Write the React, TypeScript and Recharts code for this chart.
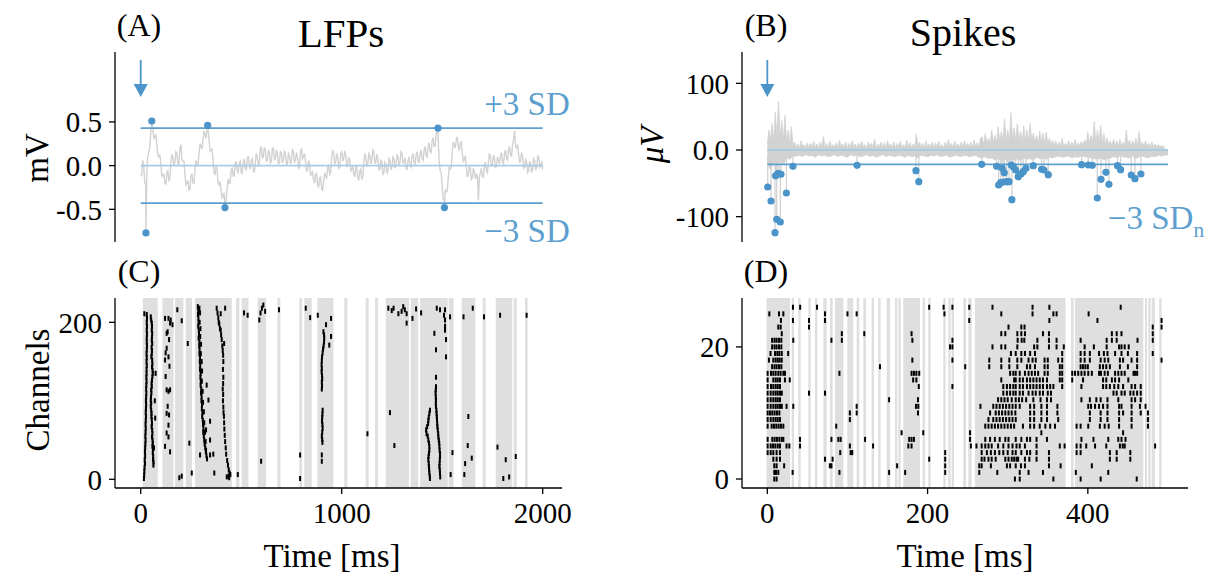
import React from 'react';
import {
  ComposedChart,
  Line,
  Area,
  Scatter,
  XAxis,
  YAxis,
  ReferenceLine,
  ReferenceArea,
  ReferenceDot,
} from 'recharts';

// ---- panel A: LFP trace, samples at 0,10,20... ms and the in-between samples at 5,15,25... ms ----
const lfpStep = 10;
const lfpTrace = [
  -0.12, 0.06, -0.2, -0.1, 0.15, 0.38, 0.44, 0.32, 0.25, 0.1,
  0.02, -0.12, -0.2, -0.08, -0.18, 0.02, 0.1, 0.04, 0.14, 0.02,
  0.24, 0.05, -0.1, -0.2, -0.28, -0.12, -0.2, -0.05, 0.02, 0.14,
  0.22, 0.3, 0.36, 0.4, 0.3, 0.18, 0.06, -0.1, -0.05, -0.22,
  -0.28, -0.34, -0.42, -0.25, -0.2, -0.06, -0.12, 0.02, -0.06, 0.03,
  -0.08, 0.04, -0.03, 0.08, 0.0, 0.06, -0.05, 0.03, 0.1, 0.02,
  0.22, 0.1, 0.18, 0.06, 0.15, 0.05, 0.2, 0.08, 0.14, 0.03,
  0.15, 0.06, 0.14, 0.02, 0.12, 0.05, 0.16, 0.06, 0.1, -0.02,
  0.2, 0.1, 0.04, -0.04, 0.02, -0.1, -0.16, -0.1, -0.22, -0.14,
  -0.26, -0.18, -0.12, -0.02, -0.1, 0.08, 0.14, 0.04, 0.1, -0.02,
  0.16, 0.08, 0.12, 0.0, 0.06, -0.04, -0.1, -0.02, -0.14, -0.06,
  -0.16, 0.04, 0.1, 0.02, 0.12, 0.06, 0.16, 0.04, 0.08, -0.04,
  0.03, -0.08, 0.02, -0.05, 0.06, -0.02, 0.08, 0.0, 0.1, 0.04,
  0.14, 0.05, -0.02, 0.06, 0.0, 0.1, 0.04, 0.12, 0.06, 0.14,
  0.08, 0.18, 0.12, 0.22, 0.16, 0.28, 0.22, 0.36, 0.3, -0.06,
  -0.24, -0.4, -0.3, -0.14, -0.04, 0.15, 0.24, 0.3, 0.22, 0.26,
  0.14, 0.08, -0.02, -0.1, -0.04, -0.14, -0.06, -0.1, -0.4, -0.08,
  -0.12, 0.0, -0.06, 0.04, 0.1, 0.02, 0.08, 0.0, 0.06, 0.12,
  0.04, 0.14, 0.08, 0.18, 0.12, 0.24, 0.4, 0.2, 0.14, 0.06,
  0.1, -0.02, 0.04, -0.06, 0.02, -0.04, 0.06, -0.02, 0.1, 0.0,
  -0.04,
];
const lfpTraceMid = [
  -0.1, 0.0, -0.22, 0.1, 0.2, 0.48, 0.31, 0.36, 0.11, 0.13,
  -0.12, -0.09, -0.21, -0.06, -0.15, 0.13, 0.0, 0.16, 0.01, 0.2,
  0.07, 0.05, -0.22, -0.17, -0.27, -0.09, -0.2, 0.06, 0.01, 0.25,
  0.19, 0.4, 0.31, 0.42, 0.17, 0.19, -0.09, 0.0, -0.2, -0.18,
  -0.38, -0.31, -0.4, -0.15, -0.2, -0.02, -0.12, 0.05, -0.08, 0.05,
  -0.09, 0.08, -0.05, 0.11, -0.04, 0.08, -0.08, 0.14, -0.01, 0.19,
  0.09, 0.21, 0.05, 0.18, 0.03, 0.2, 0.07, 0.18, 0.02, 0.16,
  0.03, 0.17, 0.01, 0.14, 0.02, 0.18, 0.04, 0.15, -0.03, 0.16,
  0.08, 0.14, -0.07, 0.06, -0.11, -0.06, -0.2, -0.09, -0.25, -0.13,
  -0.29, -0.08, -0.14, 0.01, -0.08, 0.18, 0.02, 0.14, -0.03, 0.14,
  0.05, 0.17, -0.01, 0.1, -0.06, 0.0, -0.13, -0.01, -0.17, -0.04,
  -0.13, 0.14, -0.01, 0.14, 0.02, 0.18, 0.03, 0.13, -0.05, 0.07,
  -0.1, 0.04, -0.09, 0.08, -0.05, 0.1, -0.03, 0.12, 0.0, 0.16,
  0.02, 0.09, -0.05, 0.1, -0.02, 0.14, 0.01, 0.16, 0.03, 0.18,
  0.06, 0.22, 0.1, 0.26, 0.15, 0.32, 0.22, 0.4, 0.05, -0.08,
  -0.39, -0.28, -0.29, -0.02, -0.02, 0.27, 0.2, 0.33, 0.17, 0.27,
  0.04, 0.1, -0.13, 0.0, -0.16, -0.03, -0.15, -0.12, -0.14, -0.03,
  -0.13, 0.04, -0.08, 0.14, -0.01, 0.12, -0.03, 0.1, 0.02, 0.15,
  0.02, 0.18, 0.06, 0.22, 0.11, 0.3, 0.22, 0.24, 0.03, 0.15,
  -0.03, 0.08, -0.08, 0.05, -0.08, 0.08, -0.05, 0.11, -0.02, 0.05,
];
// threshold crossings [ms, mV]
const lfpPeaks = [
  [26, -0.77], [55, 0.51], [333, 0.46], [419, -0.48], [1479, 0.43], [1511, -0.48],
];
const lfpThreshold = 0.43;

// ---- panel B: spike band; upper edge every 2 ms, lower edge every 4 ms [µV] ----
const spikeUpperStep = 2;
const spikeUpper = [
  10, 30, 15, 40, 12, 57, 20, 73, 18, 45, 15, 52, 12, 30, 10, 35, 8,
  12, 4, 9, 3, 14, 5, 8, 4, 11, 3, 10, 5, 13, 4, 9, 3, 12, 5, 20, 4,
  10, 3, 13, 5, 8, 4, 11, 3, 15, 5, 9, 4, 12, 3, 10, 5, 14, 4, 9, 3,
  11, 5, 13, 4, 8, 3, 12, 5, 10, 4, 16, 3, 9, 5, 12, 4, 11, 3, 14, 5,
  9, 4, 12, 3, 10, 5, 13, 4, 8, 3, 15, 5, 11, 4, 9, 3, 24, 5, 12, 4,
  10, 3, 14, 5, 9, 4, 12, 3, 11, 5, 13, 4, 8, 3, 12, 5, 16, 4, 10, 3,
  13, 5, 9, 4, 12, 3, 14, 5, 10, 4, 12, 3, 15, 5, 11, 4, 18,
  20, 8, 25, 10, 18, 9, 30, 12, 22, 10, 35, 14, 28, 12, 47, 15, 30, 12, 56, 16,
  33, 14, 40, 15, 28, 12, 36, 14, 30, 12, 40, 13, 25, 11, 22, 10, 28, 12, 25, 10,
  27, 9, 18, 8, 15,
  6, 14, 5, 12, 6, 18, 5, 10, 6, 14, 5, 12, 6, 16, 5, 11, 6, 13, 7,
  15, 8, 27, 10, 22, 12, 43, 10, 30, 12, 37, 10, 25, 8, 18, 7, 14, 6, 16,
  6, 14, 5, 16, 6, 12, 5, 30, 7, 15, 5, 14, 6, 18, 5, 28, 6, 12, 5, 14, 6, 10,
  5, 12, 4, 9, 5, 8, 4, 7, 4, 6,
];
const spikeLowerStep = 4;
const spikeLower = [
  -20, -30, -18, -25, -15, -22, -12, -14, -10, -9,
  -8, -10, -7, -9, -8, -11, -7, -9, -8, -10,
  -9, -7, -10, -8, -9, -11, -7, -9, -8, -10,
  -9, -7, -10, -8, -11, -9, -7, -10, -8, -9,
  -10, -8, -9, -11, -8, -10, -9, -12, -8, -9,
  -10, -8, -9, -7, -10, -9, -8, -11, -9, -8,
  -10, -9, -8, -10, -9, -8, -11, -12, -10, -13,
  -12, -15, -13, -16, -12, -18, -14, -15, -13, -16,
  -12, -14, -13, -15, -11, -13, -12, -14, -11, -12,
  -10, -9, -11, -10, -9, -12, -10, -11, -9, -10,
  -11, -12, -13, -14, -12, -15, -13, -12, -10, -11,
  -9, -10, -11, -12, -9, -13, -10, -9, -11, -12,
  -9, -10, -8, -9, -8, -7,
];
// detected spikes [ms, µV]
const spikeDots = [
  [0.5, -55.5], [4.6, -76.5], [9.6, -124], [10.4, -38.5], [11.7, -104], [13.7, -35],
  [16.2, -108], [17, -36.5], [23.8, -64.5], [32, -24.5], [112, -23], [185.5, -31],
  [189, -47.5], [267.5, -21.5], [286.2, -24.5], [288.7, -52.5], [291.2, -49],
  [293.2, -27.5], [294.5, -48], [295.7, -34], [298.7, -47.5], [301.6, -47.5],
  [304.4, -22.5], [305.2, -74.5], [306.9, -25], [309.9, -30], [313.2, -40],
  [316.5, -36], [319.4, -32.5], [322.8, -27.5], [331.9, -23.5], [342.3, -29],
  [345.2, -30], [350.6, -37], [392.2, -22], [400.5, -22.5], [405.5, -23],
  [411.8, -72], [416.4, -44], [422.6, -33.5], [426.3, -51.5], [437.1, -23.5],
  [440.9, -29.5], [454.2, -37.5], [458.8, -43], [466.2, -36],
];
const spikeThreshold = -21.5;

// ---- panel C: LFP event raster [ms, channel] ----
const cBands = [
  [10, 85], [108, 163], [171, 212], [224, 255], [270, 453], [474, 491], [502, 536],
  [582, 624], [680, 695], [789, 803], [814, 851], [879, 959], [1013, 1028],
  [1119, 1134], [1166, 1181], [1219, 1335], [1343, 1381], [1390, 1527], [1532, 1557],
  [1597, 1665], [1701, 1716], [1766, 1849], [1856, 1871], [1912, 1925],
];
const cWaveEarlyA = [
  [30, 210], [31, 205], [30, 200], [31, 195], [30, 190], [31, 185], [30, 180], [30, 175],
  [31, 170], [30, 165], [29, 160], [30, 155], [29, 150], [30, 145], [29, 140], [29, 135],
  [28, 130], [29, 125], [28, 120], [27, 115], [28, 110], [27, 105], [26, 100], [27, 95],
  [26, 90], [25, 85], [26, 80], [25, 75], [24, 70], [25, 65], [24, 60], [23, 55], [24, 50],
  [23, 45], [22, 40], [21, 35], [22, 30], [20, 25], [21, 20], [19, 15], [18, 10], [17, 5],
  [16, 1],
];
const cWaveEarlyB = [
  [50, 207], [52, 203], [55, 199], [56, 195], [55, 190], [57, 186], [56, 181], [55, 177],
  [57, 173], [54, 168], [56, 164], [55, 160], [53, 156], [57, 152], [58, 147], [56, 143],
  [59, 139], [60, 135], [58, 131], [56, 126], [54, 122], [55, 118], [52, 114], [53, 110],
  [51, 105], [50, 101], [52, 97], [50, 93], [52, 88], [54, 84], [53, 80], [55, 76], [56, 71],
  [54, 67], [57, 63], [58, 58], [56, 54], [59, 50], [60, 46], [58, 42], [61, 38], [60, 34],
  [62, 29], [61, 25], [64, 22], [63, 18], [74, 135], [70, 100], [72, 78], [66, 40], [18, 211],
];
const cWaveSecond = [
  [121, 205], [138, 205], [149, 203], [146, 199], [158, 197], [134, 188], [129, 186],
  [141, 178], [129, 167], [124, 161], [121, 152], [138, 156], [143, 144], [124, 131],
  [129, 114], [138, 112], [146, 114], [134, 93], [129, 84], [141, 82], [138, 69],
  [129, 59], [138, 54], [121, 42], [146, 35], [182, 216], [204, 202], [192, 2], [204, 4],
  [234, 173], [242, 46], [254, 8],
];
const cWaveThirdA = [
  [284, 220], [286, 215], [285, 210], [287, 205], [288, 200], [286, 195], [289, 190],
  [290, 185], [288, 180], [292, 175], [291, 170], [293, 165], [292, 160], [295, 155],
  [294, 150], [296, 145], [295, 140], [298, 135], [297, 130], [299, 125], [298, 120],
  [301, 115], [300, 110], [303, 105], [302, 100], [305, 95], [304, 90], [307, 85],
  [306, 80], [309, 75], [310, 70], [312, 65], [311, 60], [314, 55], [316, 50], [318, 45],
  [321, 40], [324, 35], [327, 30], [330, 26],
];
const cWaveThirdB = [
  [292, 218], [295, 212], [293, 200], [297, 192], [296, 182], [300, 172], [299, 160],
  [303, 150], [305, 138], [304, 125], [308, 112], [310, 98], [314, 86], [316, 72],
  [320, 60], [323, 48], [328, 120], [337, 101], [345, 74], [325, 63], [345, 50],
  [295, 31], [325, 37], [345, 31], [361, 32], [366, 8],
];
const cWaveFourth = [
  [378, 218], [382, 212], [386, 206], [388, 200], [391, 198], [394, 192], [398, 190],
  [400, 184], [403, 178], [406, 170], [408, 164], [410, 158], [411, 150], [409, 140],
  [411, 130], [410, 122], [408, 115], [410, 108], [409, 100], [411, 92], [412, 85],
  [414, 80], [415, 72], [416, 64], [418, 56], [420, 48], [423, 40], [425, 32], [430, 24],
  [434, 18], [438, 12], [442, 8], [436, 4], [428, 3], [446, 6], [398, 211], [420, 218],
  [415, 173], [440, 2], [483, 6],
];
const cWaveFifth = [
  [909, 188], [912, 184], [913, 180], [912, 175], [910, 170], [907, 166], [905, 161],
  [902, 156], [901, 151], [900, 146], [901, 141], [900, 137], [902, 132], [903, 128],
  [901, 124], [902, 119], [901, 115], [905, 88], [904, 83], [903, 79], [902, 74],
  [904, 70], [905, 65], [903, 60], [901, 55], [903, 51], [904, 47], [901, 31], [901, 23],
  [922, 197], [938, 171], [947, 182], [947, 205],
];
const cWaveSixthA = [
  [1439, 88], [1436, 84], [1433, 79], [1431, 75], [1430, 71], [1425, 67], [1420, 63],
  [1422, 58], [1428, 55], [1431, 50], [1434, 46], [1436, 42], [1436, 37], [1434, 33],
  [1432, 29], [1431, 25], [1433, 20], [1434, 16], [1435, 12], [1436, 8], [1438, 4],
  [1439, 1],
];
const cWaveSixthB = [
  [1469, 118], [1468, 114], [1467, 110], [1468, 105], [1469, 101], [1468, 97], [1469, 93],
  [1471, 88], [1472, 84], [1473, 80], [1474, 76], [1475, 71], [1476, 67], [1478, 63],
  [1480, 58], [1481, 54], [1483, 50], [1485, 46], [1486, 42], [1487, 37], [1489, 33],
  [1489, 29], [1488, 25], [1487, 20], [1486, 16], [1488, 12], [1489, 8], [1490, 3],
  [1473, 218], [1489, 216], [1514, 216], [1509, 209], [1514, 203], [1514, 195],
  [1514, 190], [1461, 186], [1519, 178], [1469, 165], [1519, 156], [1469, 130],
];
const cSparse = [
  [514, 212], [532, 209], [590, 203], [596, 212], [603, 218], [610, 222], [619, 214],
  [688, 216], [599, 23], [793, 31], [793, 1], [821, 218], [843, 206], [881, 209],
  [1128, 58], [1240, 85], [1262, 43], [1232, 218], [1249, 215], [1258, 218], [1282, 211],
  [1298, 214], [1306, 220], [1314, 216], [1323, 211], [1323, 199], [1352, 205],
  [1370, 217], [1395, 212], [1539, 207], [1606, 207], [1652, 218], [1708, 207],
  [1788, 209], [1920, 209], [1551, 34], [1542, 6], [1614, 20], [1610, 6], [1630, 80],
  [1627, 43], [1647, 27], [1775, 41], [1816, 25], [1804, 1], [1833, 3], [1866, 29],
];

// ---- panel D: spike raster, spike times [ms] per channel 0..26 ----
const dBands = [
  [-1, 28.3], [30.4, 33.3], [38.7, 41.6], [51.2, 54.1], [59.5, 62.4], [69.9, 74.1],
  [78.2, 81.5], [84.5, 94.9], [99.8, 107.3], [111.5, 114.8], [119.8, 123.1],
  [130.2, 133.1], [138.5, 141.4], [149, 153.1], [159.3, 162.2], [163.5, 166.4],
  [169.7, 190.5], [193.8, 196.8], [200.9, 203.8], [219.6, 222.5], [225.9, 228.8],
  [230, 233], [244.6, 248], [250.8, 255], [259.1, 372.2], [378.9, 382.3], [383.9, 469.2],
  [471.3, 473.8], [475.4, 478.3], [479.6, 483.7], [489.1, 492],
];
const dSpikeTimes = [
  [8.7, 11.6, 309, 315, 357, 391, 416, 461],
  [8.7, 10.8, 13.7, 31.6, 90, 152, 172, 222, 264.5, 287, 315, 326, 344, 385, 425.5],
  [8.7, 11.6, 21, 78, 80, 162, 222, 264.5, 267.5, 279, 299, 303, 310, 316.5, 321.5, 351.5, 366, 405],
  [7.5, 11.6, 15.8, 72, 81.5, 202, 222, 267.5, 271, 276, 280, 285, 297, 301, 305, 308, 311, 313,
    321.5, 327, 336, 351.5, 427.5, 436, 453],
  [0.4, 4.2, 7.5, 11.6, 15.8, 91, 104, 106, 222, 267.5, 274, 279, 284, 289.5, 294.5, 300, 306, 310,
    317, 324, 328, 336, 351.5, 386, 391, 427.5, 436, 453],
  [0.4, 4.2, 7.1, 10, 13, 15.8, 24, 27.5, 40.8, 103, 132, 176, 180, 254, 261, 267.5, 272, 276, 280,
    288, 294.5, 301, 306, 311, 315, 321.5, 336, 365, 371, 386, 391, 398, 409, 423, 440, 443.5, 446, 484],
  [0.4, 6.2, 9.1, 12, 15, 18, 20, 40.8, 80, 88.6, 91.5, 122, 177, 180, 183, 253, 272, 278, 284, 290,
    297, 301, 310, 317, 324, 328, 336, 349, 392, 407, 425.5, 438, 442, 447],
  [167.6, 194.6, 253, 342, 444],
  [0.4, 5.4, 8.3, 11.2, 14.1, 17, 20, 86, 272, 276, 280, 284, 288, 292, 296, 300, 304, 308, 319, 328,
    333, 340, 347, 353, 359, 386, 391, 400.5, 415, 421, 426, 439, 454.6, 475],
  [0.4, 4.2, 7.5, 10.4, 13, 15.8, 103, 276, 282, 286, 290, 294, 298, 302, 306, 310, 328, 333, 342,
    349, 363, 402.5, 416, 424.5, 439, 454.6, 475],
  [0.4, 3.3, 6.2, 9.1, 12, 15, 103, 111.5, 188, 278, 285, 289, 293, 297, 301, 305, 309.5, 328, 333,
    342, 349, 362, 402.5, 416, 424.5, 439, 444, 454.6, 466, 475],
  [0.4, 4.2, 7.5, 10.4, 13, 15.8, 18, 24, 32.4, 111.5, 185.5, 188.4, 266, 282, 286, 290, 294, 298,
    302, 306, 310, 315, 328, 333, 342, 349, 362, 400.5, 404, 409, 414, 419, 424.5, 439, 442, 454.6,
    465, 472],
  [0.4, 4.2, 7.5, 10.4, 13, 15.8, 152, 188, 288, 292, 296, 300, 305, 310, 314, 318, 323, 332, 341,
    349, 354, 392, 402.5, 410.6, 416, 424.5, 438, 454.6, 459, 466],
  [0.4, 4.2, 7.5, 10.4, 13, 15.8, 18, 52, 72, 294.5, 299, 303, 307, 310, 315, 319, 326, 331, 335,
    340, 344, 350, 354, 432, 436, 442, 446, 453, 457, 461.5, 466],
  [0.4, 4.6, 7.5, 10.4, 13, 15.8, 189, 231, 294.5, 299, 303, 307, 310, 315, 319, 324, 328, 332, 336,
    340, 344, 349, 353, 357, 368, 392, 419, 423, 427.5, 433, 438, 444, 454.6, 459, 466],
  [0.4, 7.5, 10.4, 13, 15.8, 22, 28, 182, 186, 292, 308, 310, 315, 319, 324, 328, 332, 336, 340, 344,
    349, 365, 368, 380.5, 394, 419, 423, 430, 434, 439, 450.5],
  [0.4, 4.6, 7.5, 10.4, 13.7, 16.6, 20, 22, 90, 180, 183, 186, 189.6, 303, 307, 310, 315, 321.5, 326,
    330, 334, 338, 346, 350, 365, 368, 380.5, 384, 388, 392, 396, 400.5, 405, 414, 416.4, 421, 425,
    434, 438, 442, 446, 457, 459, 461.5],
  [6, 9, 11.6, 14.6, 17.5, 140.6, 247, 277, 292, 302, 312, 324, 328, 334, 346, 350, 365, 368, 391,
    394, 397, 400, 415, 419, 423, 427.5, 440, 450, 461.5],
  [2, 7.5, 10.4, 13, 15.4, 18, 181, 231, 277, 292, 302, 312, 317, 326, 331, 335, 346, 350, 363, 368,
    391, 396, 402.5, 416, 421, 425.5, 440, 444, 454.6, 461.5, 492],
  [4, 9.6, 12.5, 15, 18, 26, 304, 310, 317, 321.5, 328, 334, 368, 391, 396, 402.5, 414, 420, 424.5,
    434, 442, 450, 461.5, 481],
  [6, 9, 11.6, 14.6, 17.5, 228, 231, 281, 292, 297, 312, 333, 337, 351.5, 361, 370, 396, 407.5, 423.5,
    439, 442, 446, 451],
  [6, 9, 11.6, 14.6, 17.5, 32.4, 80, 93, 181, 231, 312.4, 317.4, 320.7, 337, 351.5, 361, 391, 423.5,
    430, 436, 462, 481],
  [18, 93, 121, 180, 292, 297, 312, 317, 321.5, 344, 351.5, 430, 436, 442, 481],
  [13.7, 16.7, 52, 301, 317, 321, 481, 492],
  [17, 32, 52, 72, 252, 352, 412, 492],
  [2.5, 14.6, 20, 72, 100, 111.5, 221, 292, 331, 357, 361, 401],
  [32, 41, 62, 202, 220, 231, 252, 281, 331, 352, 441],
];

// ---- styling ----
const FONT = "'Liberation Serif', 'DejaVu Serif', serif";
const BLUE = '#4a94c9';
const BLUE_LINE = '#5c9fcf';
const BLUE_ZERO = '#a9cbe4';
const TRACE = '#d2d2d2';
const BAND = '#dfdfdf';

const axisLine = { stroke: '#000', strokeWidth: 1.3 };
const tickStyle = { fill: '#000', fontSize: 29, fontFamily: FONT };

const toPoints = (pairs: number[][]) => pairs.map(([t, v]) => ({ t, v }));

const lfpData = [
  ...lfpTrace.map((v, i) => ({ t: i * lfpStep, v })),
  ...lfpTraceMid.map((v, i) => ({ t: i * lfpStep + lfpStep / 2, v })),
  ...toPoints(lfpPeaks),
].sort((a, b) => a.t - b.t);

const spikeUpperBand = spikeUpper.map((hi, i) => ({ t: i * spikeUpperStep, band: [0, hi] }));
const spikeLowerBand = spikeLower.map((lo, i) => ({ t: i * spikeLowerStep, band: [lo, 0] }));

const cRaster = toPoints([
  ...cWaveEarlyA, ...cWaveEarlyB, ...cWaveSecond, ...cWaveThirdA, ...cWaveThirdB,
  ...cWaveFourth, ...cWaveFifth, ...cWaveSixthA, ...cWaveSixthB, ...cSparse,
]);
const dRaster = dSpikeTimes.flatMap((times, ch) => times.map((t) => ({ t, v: ch })));

const RasterTick = (p: any) => (
  <rect x={p.cx - 1} y={p.cy - 2.5} width={2} height={5} fill="#000" />
);
const BlueDot = (p: any) => <circle cx={p.cx} cy={p.cy} r={3.6} fill={BLUE} />;
const Arrow = (p: any) => (
  <g>
    <line x1={p.cx} y1={p.cy - 37} x2={p.cx} y2={p.cy - 11} stroke={BLUE} strokeWidth={1.8} />
    <path d={`M${p.cx - 7},${p.cy - 13} L${p.cx + 7},${p.cy - 13} L${p.cx},${p.cy} Z`} fill={BLUE} />
  </g>
);

const Text = ({ x, y, size, color = '#000', rotate = 0, italic = false, children }: any) => (
  <div
    style={{
      position: 'absolute',
      left: x,
      top: y,
      transform: `translate(-50%, -50%) rotate(${rotate}deg)`,
      fontSize: size,
      color,
      fontFamily: FONT,
      fontStyle: italic ? 'italic' : 'normal',
      whiteSpace: 'nowrap',
      lineHeight: 1,
    }}
  >
    {children}
  </div>
);

const fmtZero = (v: number) => (v === 0 ? '0.0' : String(v));

export default function App() {
  return (
    <div style={{ position: 'absolute', left: 0, top: 0, width: 1211, height: 577, background: '#fff' }}>
      {/* A: LFPs */}
      <div style={{ position: 'absolute', left: 0, top: 0 }}>
        <ComposedChart width={600} height={260} margin={{ top: 52, right: 38, bottom: 18, left: 55 }}>
          <XAxis dataKey="t" type="number" domain={[-128, 2096]} allowDataOverflow hide />
          <YAxis
            type="number"
            domain={[-0.874, 1.3]}
            allowDataOverflow
            ticks={[-0.5, 0, 0.5]}
            interval={0}
            tickFormatter={fmtZero}
            width={60}
            tickSize={6}
            tickMargin={7}
            axisLine={axisLine}
            tickLine={axisLine}
            tick={tickStyle}
          />
          <Line data={lfpData} dataKey="v" stroke={TRACE} strokeWidth={1.4} dot={false} isAnimationActive={false} />
          <ReferenceLine segment={[{ x: 0, y: 0 }, { x: 2000, y: 0 }]} stroke={BLUE_ZERO} strokeWidth={1.6} />
          <ReferenceLine segment={[{ x: 0, y: lfpThreshold }, { x: 2000, y: lfpThreshold }]} stroke={BLUE_LINE} strokeWidth={1.8} />
          <ReferenceLine segment={[{ x: 0, y: -lfpThreshold }, { x: 2000, y: -lfpThreshold }]} stroke={BLUE_LINE} strokeWidth={1.8} />
          <Scatter data={toPoints(lfpPeaks)} dataKey="v" shape={BlueDot} isAnimationActive={false} />
          <ReferenceDot x={0} y={0.785} ifOverflow="visible" shape={Arrow} />
        </ComposedChart>
      </div>

      {/* B: Spikes */}
      <div style={{ position: 'absolute', left: 600, top: 0 }}>
        <ComposedChart width={611} height={260} margin={{ top: 52, right: 23, bottom: 18, left: 62 }}>
          <XAxis dataKey="t" type="number" domain={[-31.6, 525]} allowDataOverflow hide />
          <YAxis
            type="number"
            domain={[-138, 147]}
            allowDataOverflow
            ticks={[-100, 0, 100]}
            interval={0}
            tickFormatter={fmtZero}
            width={80}
            tickSize={6}
            tickMargin={7}
            axisLine={axisLine}
            tickLine={axisLine}
            tick={tickStyle}
          />
          <Area data={spikeUpperBand} dataKey="band" type="linear" stroke={TRACE} strokeWidth={0.8}
            fill={TRACE} fillOpacity={1} isAnimationActive={false} />
          <Area data={spikeLowerBand} dataKey="band" type="linear" stroke={TRACE} strokeWidth={0.8}
            fill={TRACE} fillOpacity={1} isAnimationActive={false} />
          {spikeDots.map(([t, v]) => (
            <ReferenceLine key={`s${t}`} segment={[{ x: t, y: -8 }, { x: t, y: v }]} stroke={TRACE} strokeWidth={1.3} />
          ))}
          <ReferenceLine segment={[{ x: 0, y: 0 }, { x: 500, y: 0 }]} stroke={BLUE_ZERO} strokeWidth={1.8} />
          <ReferenceLine segment={[{ x: 0, y: spikeThreshold }, { x: 500, y: spikeThreshold }]} stroke={BLUE_LINE} strokeWidth={1.8} />
          <Scatter data={toPoints(spikeDots)} dataKey="v" shape={BlueDot} isAnimationActive={false} />
          <ReferenceDot x={0} y={79.5} ifOverflow="visible" shape={Arrow} />
        </ComposedChart>
      </div>

      {/* C: LFP raster */}
      <div style={{ position: 'absolute', left: 0, top: 260 }}>
        <ComposedChart width={600} height={317} margin={{ top: 38, right: 38, bottom: 49, left: 55 }}>
          <XAxis
            dataKey="t"
            type="number"
            domain={[-128, 2096]}
            allowDataOverflow
            ticks={[0, 1000, 2000]}
            interval={0}
            height={40}
            tickSize={6}
            tickMargin={8}
            axisLine={axisLine}
            tickLine={axisLine}
            tick={tickStyle}
          />
          <YAxis
            type="number"
            domain={[-11.1, 231]}
            allowDataOverflow
            ticks={[0, 200]}
            interval={0}
            width={60}
            tickSize={6}
            tickMargin={7}
            axisLine={axisLine}
            tickLine={axisLine}
            tick={tickStyle}
          />
          {cBands.map(([a, b]) => (
            <ReferenceArea key={`c${a}`} x1={a} x2={b} fill={BAND} fillOpacity={1} stroke="none" />
          ))}
          <Scatter data={cRaster} dataKey="v" shape={RasterTick} isAnimationActive={false} />
        </ComposedChart>
      </div>

      {/* D: spike raster */}
      <div style={{ position: 'absolute', left: 600, top: 260 }}>
        <ComposedChart width={611} height={317} margin={{ top: 38, right: 23, bottom: 49, left: 62 }}>
          <XAxis
            dataKey="t"
            type="number"
            domain={[-31.6, 525]}
            allowDataOverflow
            ticks={[0, 200, 400]}
            interval={0}
            height={40}
            tickSize={6}
            tickMargin={8}
            axisLine={axisLine}
            tickLine={axisLine}
            tick={tickStyle}
          />
          <YAxis
            type="number"
            domain={[-1.36, 27.4]}
            allowDataOverflow
            ticks={[0, 20]}
            interval={0}
            width={80}
            tickSize={6}
            tickMargin={7}
            axisLine={axisLine}
            tickLine={axisLine}
            tick={tickStyle}
          />
          {dBands.map(([a, b]) => (
            <ReferenceArea key={`d${a}`} x1={a} x2={b} fill={BAND} fillOpacity={1} stroke="none" />
          ))}
          <Scatter data={dRaster} dataKey="v" shape={RasterTick} isAnimationActive={false} />
        </ComposedChart>
      </div>

      {/* titles, panel letters and axis labels */}
      <Text x={139} y={25} size={32}>(A)</Text>
      <Text x={341} y={33} size={41}>LFPs</Text>
      <Text x={766} y={25} size={32}>(B)</Text>
      <Text x={963} y={33} size={40}>Spikes</Text>
      <Text x={139} y={271} size={32}>(C)</Text>
      <Text x={766} y={271} size={32}>(D)</Text>
      <Text x={37} y={158} size={33} rotate={-90}>mV</Text>
      <Text x={652} y={145} size={33} rotate={-90} italic>μV</Text>
      <Text x={38} y={390} size={33} rotate={-90}>Channels</Text>
      <Text x={332} y={556} size={33}>Time [ms]</Text>
      <Text x={965} y={556} size={33}>Time [ms]</Text>
      <Text x={527} y={104} size={33} color={BLUE_LINE}>+3 SD</Text>
      <Text x={527} y={231} size={33} color={BLUE_LINE}>−3 SD</Text>
      <Text x={1156} y={218} size={33} color={BLUE_LINE}>
        −3 SD<span style={{ fontSize: '0.65em', position: 'relative', top: '0.35em' }}>n</span>
      </Text>
    </div>
  );
}
